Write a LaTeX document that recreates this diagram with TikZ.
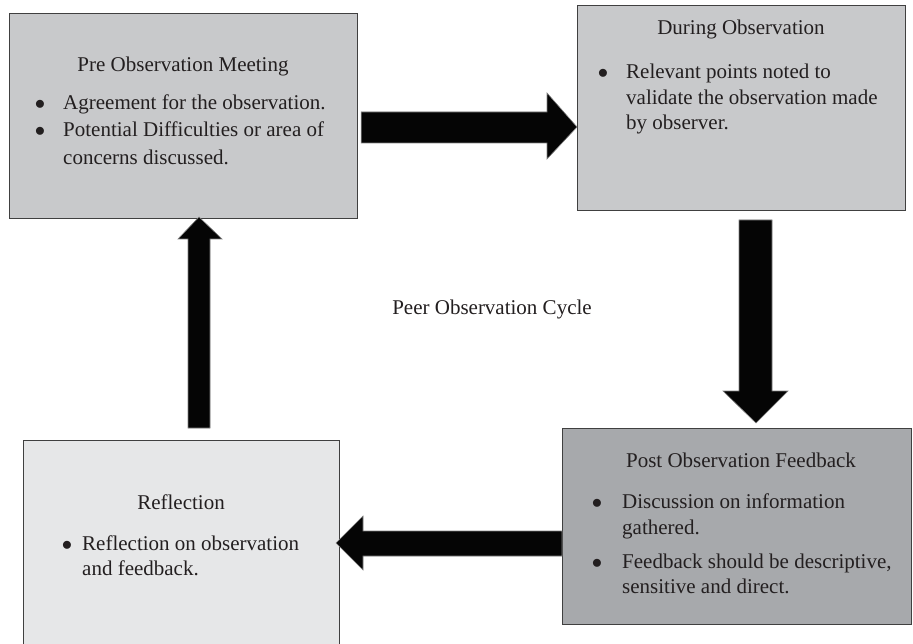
\documentclass[tikz,border=0pt]{standalone}
\usepackage{fontspec}
\setmainfont{Liberation Serif}
\definecolor{boxA}{HTML}{C8C9CB}
\definecolor{boxB}{HTML}{A7A9AC}
\definecolor{boxC}{HTML}{E6E7E8}
\definecolor{edge}{HTML}{404040}
\definecolor{ink}{HTML}{231F20}
\definecolor{arrowblack}{HTML}{050505}
\definecolor{arrowedge}{HTML}{808080}
\begin{document}
\begin{tikzpicture}[x=1pt,y=-1pt,
  font=\fontsize{21}{27}\selectfont,
  box/.style={draw=edge, line width=1.2pt, anchor=north west, inner sep=0pt},
  blk/.style={fill=arrowblack, draw=arrowedge, line width=0.6pt},
  ttl/.style={anchor=base, inner sep=0pt, text=ink},
  txt/.style={anchor=base west, inner sep=0pt, text=ink},
  bul/.style={anchor=base, inner sep=0pt, text=ink}]
\useasboundingbox (0,0) rectangle (913,644);
\clip (0,0) rectangle (913,644);
\fill[white] (0,0) rectangle (913,644);

% boxes
\node[box, fill=boxA, minimum width=348pt, minimum height=205pt] (pre) at (9,13) {};
\node[box, fill=boxA, minimum width=328pt, minimum height=205pt] (during) at (577,5) {};
\node[box, fill=boxB, minimum width=349pt, minimum height=196pt] (post) at (562,428) {};
\node[box, fill=boxC, minimum width=316pt, minimum height=260pt] (refl) at (23,440) {};

% block arrows
\coordinate (a1s) at (pre.east |- 0,127);
\coordinate (a1t) at (during.west |- 0,127);
\draw[blk] ([xshift=3pt]a1s |- 0,112) -- (547,112) -- (547,93) -- (a1t)
  -- (547,159) -- (547,143) -- ([xshift=3pt]a1s |- 0,143) -- cycle;

\coordinate (a2t) at (756,423);
\draw[blk] (739,220) -- (739,391) -- (723,391) -- (a2t) -- (788,391)
  -- (772,391) -- (772,220) -- cycle;

\coordinate (a3t) at (336,543);
\draw[blk] (post.west |- 0,531) -- (363,531) -- (363,516) -- (a3t)
  -- (363,570) -- (363,556) -- (post.west |- 0,556) -- cycle;

\coordinate (a4t) at (199,217);
\draw[blk] (188,428) -- (188,239) -- (178,239) -- (a4t) -- (222,239)
  -- (210,239) -- (210,428) -- cycle;

% box 1 text
\node[ttl] (t1) at (183,72) {Pre Observation Meeting};
\node[bul] (b1a) at (40,110) {$\bullet$};
\node[txt] (l1a) at (63,110) {Agreement for the observation.};
\node[bul] (b1b) at (40,137) {$\bullet$};
\node[txt] (l1b) at (63,137) {Potential Difficulties or area of};
\node[txt] (l1c) at (63,165) {concerns discussed.};

% box 2 text
\node[ttl] (t2) at (741,35) {During Observation};
\node[bul] (b2a) at (603,79) {$\bullet$};
\node[txt] (l2a) at (626,79) {Relevant points noted to};
\node[txt] (l2b) at (626,105) {validate the observation made};
\node[txt] (l2c) at (626,130) {by observer.};

% box 3 text
\node[ttl] (t3) at (741,467) {Post Observation Feedback};
\node[bul] (b3a) at (597,508) {$\bullet$};
\node[txt] (l3a) at (622,508) {Discussion on information};
\node[txt] (l3b) at (622,534) {gathered.};
\node[bul] (b3b) at (597,568) {$\bullet$};
\node[txt] (l3c) at (622,568) {Feedback should be descriptive,};
\node[txt] (l3d) at (622,593) {sensitive and direct.};

% box 4 text
\node[ttl] (t4) at (181,509) {Reflection};
\node[bul] (b4a) at (67,550) {$\bullet$};
\node[txt] (l4a) at (82,550) {Reflection on observation};
\node[txt] (l4b) at (82,575) {and feedback.};

% centre label
\node[ttl] (cyc) at (492,315) {Peer Observation Cycle};
\end{tikzpicture}
\end{document}
